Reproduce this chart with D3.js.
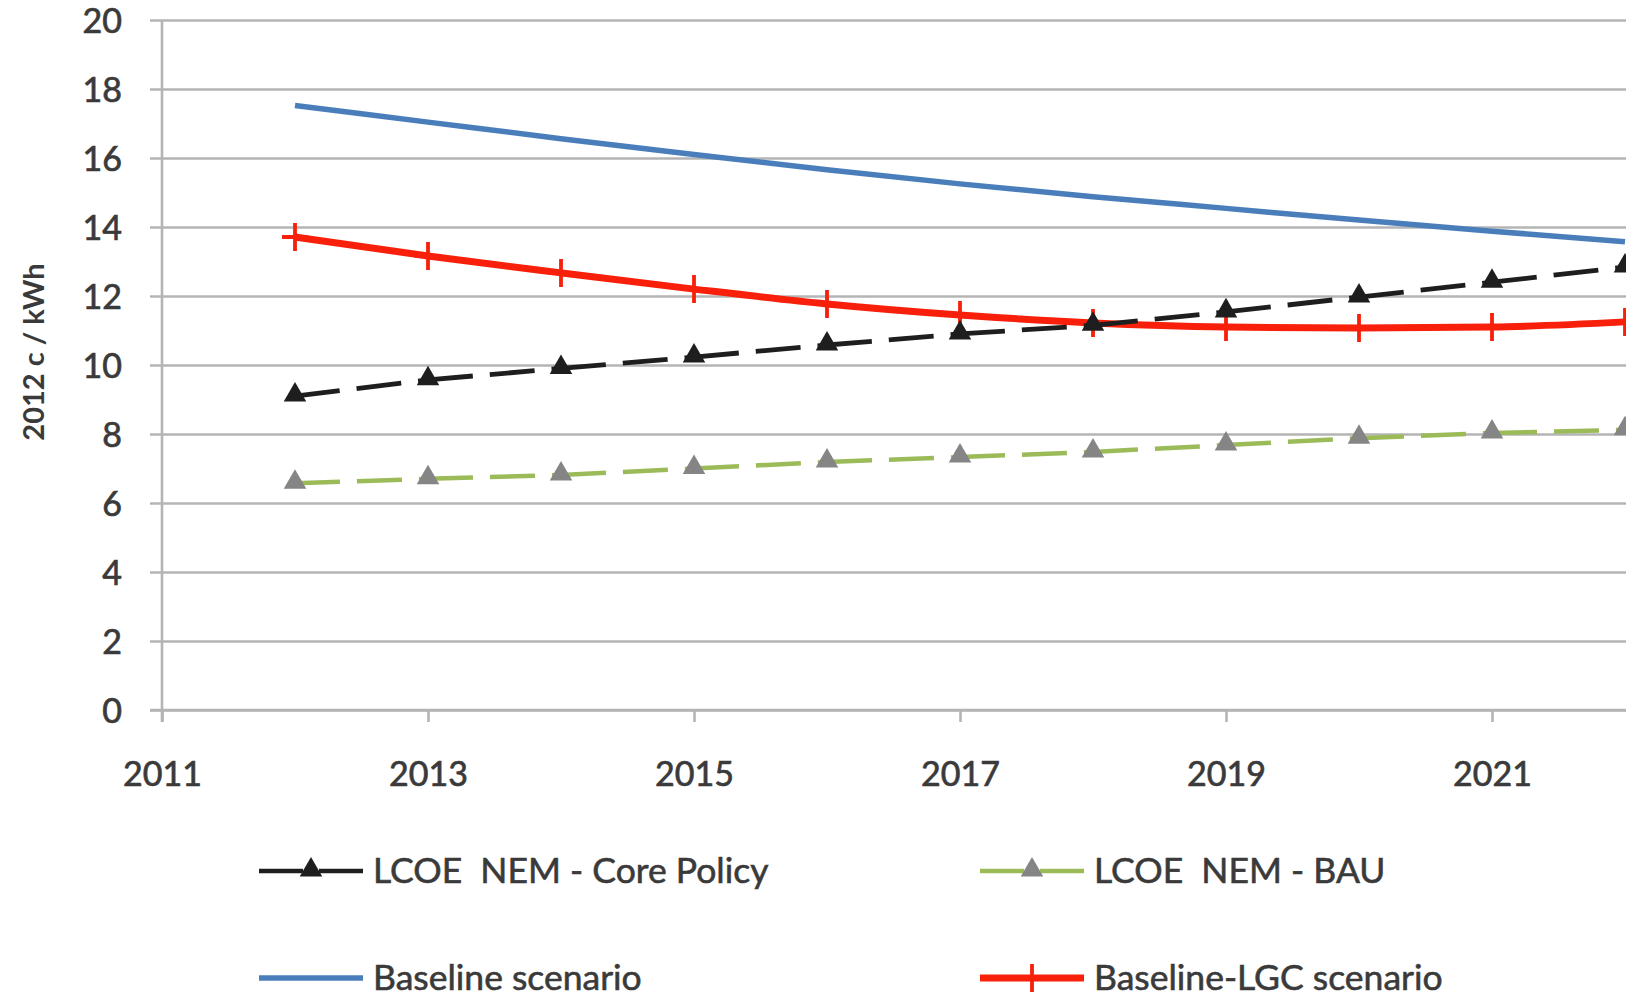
<!DOCTYPE html>
<html>
<head>
<meta charset="utf-8">
<script src="https://cdn.jsdelivr.net/npm/d3@7"></script>
<style>
  html, body { margin: 0; padding: 0; background: #fff; }
  svg { display: block; }
  text { font-family: Lato, "Open Sans", sans-serif; fill: #3a3a3a; }
</style>
</head>
<body>
<svg id="chart" width="1626" height="998"></svg>
<script>
// Years on the horizontal axis
const years = [2012, 2013, 2014, 2015, 2016, 2017, 2018, 2019, 2020, 2021, 2022];

// Levelised cost of electricity, 2012 c / kWh
const corePolicy  = [9.1, 9.57, 9.9, 10.23, 10.58, 10.9, 11.15, 11.54, 11.97, 12.4, 12.84];
const bau         = [6.57, 6.7, 6.81, 7.0, 7.19, 7.33, 7.48, 7.68, 7.88, 8.03, 8.12];
const baseline    = [17.52, 17.04, 16.56, 16.1, 15.66, 15.25, 14.88, 14.54, 14.2, 13.88, 13.57];
const baselineLGC = [13.71, 13.16, 12.67, 12.2, 11.77, 11.45, 11.22, 11.1, 11.07, 11.1, 11.25];

// Axis ticks
const xTicks = [2011, 2013, 2015, 2017, 2019, 2021];
const yTicks = [0, 2, 4, 6, 8, 10, 12, 14, 16, 18, 20];

const yTitle = "2012 c / kWh";
const legendLabels = ["LCOE  NEM - Core Policy", "LCOE  NEM - BAU", "Baseline scenario", "Baseline-LGC scenario"];

const svg = d3.select("#chart");

const x = d3.scaleLinear().domain([2011, 2022]).range([162, 1625]);
const y = d3.scaleLinear().domain([0, 20]).range([710, 20]);

const gridColor = "#b4b4b4";
const textColor = "#3a3a3a";

// Horizontal gridlines and y axis labels
const yAxis = d3.axisLeft(y).tickValues(yTicks).tickSize(-(1626 - 150)).tickPadding(28).tickFormat(d3.format("d"));
const gy = svg.append("g").attr("transform", "translate(150,0)").call(yAxis);
gy.select(".domain").remove();
gy.selectAll(".tick line").attr("stroke", gridColor).attr("stroke-width", 2.6);
gy.selectAll(".tick text").attr("font-size", 34).attr("fill", textColor)
  .attr("stroke", textColor).attr("stroke-width", 0.7).attr("dy", "0.36em");

// Vertical axis line
svg.append("line")
  .attr("x1", x(2011)).attr("x2", x(2011))
  .attr("y1", y(20)).attr("y2", y(0) + 12)
  .attr("stroke", gridColor).attr("stroke-width", 2.6);

// x axis
const xAxis = d3.axisBottom(x).tickValues(xTicks).tickSize(12).tickPadding(40).tickFormat(d3.format("d"));
const gx = svg.append("g").attr("transform", `translate(0,${y(0)})`).call(xAxis);
gx.select(".domain").attr("stroke", gridColor).attr("stroke-width", 2.6)
  .attr("d", `M150,0H1626`);
gx.selectAll(".tick line").attr("stroke", gridColor).attr("stroke-width", 2.6);
gx.selectAll(".tick text").attr("font-size", 34).attr("fill", textColor)
  .attr("stroke", textColor).attr("stroke-width", 0.7);

// y axis title
svg.append("text")
  .attr("transform", "translate(44,352) rotate(-90)")
  .attr("text-anchor", "middle")
  .attr("font-size", 29)
  .attr("font-weight", "bold")
  .attr("fill", "#222")
  .text(yTitle);

const pts = vals => vals.map((v, i) => [x(years[i]), y(v)]);

const triangle = d3.symbol().type(d3.symbolTriangle).size(220);
const cross = "M-13,0H13M0,-14V14";

// Dashed series drawn segment by segment so each span starts with a dash
function dashedSeries(vals, color, markerFill, width) {
  const p = pts(vals);
  const g = svg.append("g");
  for (let i = 0; i < p.length - 1; i++) {
    g.append("line")
      .attr("x1", p[i][0]).attr("y1", p[i][1])
      .attr("x2", p[i + 1][0]).attr("y2", p[i + 1][1])
      .attr("stroke", color).attr("stroke-width", width)
      .attr("stroke-dasharray", "45,17");
  }
  g.selectAll("path.m").data(p).join("path")
    .attr("class", "m")
    .attr("transform", d => `translate(${d[0]},${d[1] - 1})`)
    .attr("d", triangle)
    .attr("fill", markerFill);
}

// Baseline scenario
svg.append("path")
  .attr("d", d3.line().curve(d3.curveMonotoneX)(pts(baseline)))
  .attr("fill", "none").attr("stroke", "#4a7ebb").attr("stroke-width", 5.5);

// Baseline-LGC scenario
const lgc = pts(baselineLGC);
svg.append("path")
  .attr("d", d3.line().curve(d3.curveMonotoneX)(lgc))
  .attr("fill", "none").attr("stroke", "#f8200a").attr("stroke-width", 7);
svg.append("g").selectAll("path").data(lgc).join("path")
  .attr("transform", d => `translate(${d[0]},${d[1]})`)
  .attr("d", cross)
  .attr("stroke", "#f8200a").attr("stroke-width", 3.8).attr("fill", "none");

dashedSeries(bau, "#9bbb59", "#858585", 4.5);
dashedSeries(corePolicy, "#1e1e1e", "#1e1e1e", 4.8);

// Legend
const legendItems = [
  { label: legendLabels[0], x: 259, y: 871, kind: "dash", color: "#1e1e1e", fill: "#1e1e1e" },
  { label: legendLabels[1], x: 980, y: 871, kind: "dash", color: "#9bbb59", fill: "#858585" },
  { label: legendLabels[2], x: 259, y: 978, kind: "solid", color: "#4a7ebb" },
  { label: legendLabels[3], x: 980, y: 978, kind: "cross", color: "#f8200a" }
];
const lg = svg.append("g");
legendItems.forEach(it => {
  const w = 104;
  const line = lg.append("line")
    .attr("x1", it.x).attr("x2", it.x + w)
    .attr("y1", it.y).attr("y2", it.y)
    .attr("stroke", it.color);
  if (it.kind === "dash") {
    line.attr("stroke-width", 4.6).attr("stroke-dasharray", "44,16");
    lg.append("path").attr("transform", `translate(${it.x + w / 2},${it.y - 1})`)
      .attr("d", triangle).attr("fill", it.fill);
  } else if (it.kind === "solid") {
    line.attr("stroke-width", 5.5);
  } else {
    line.attr("stroke-width", 7);
    lg.append("path").attr("transform", `translate(${it.x + w / 2},${it.y})`)
      .attr("d", cross).attr("stroke", it.color).attr("stroke-width", 3.8);
  }
  lg.append("text")
    .attr("x", it.x + w + 10).attr("y", it.y)
    .attr("dy", "0.35em")
    .attr("font-size", 35.5)
    .attr("stroke", textColor).attr("stroke-width", 0.6)
    .attr("xml:space", "preserve")
    .style("white-space", "pre")
    .text(it.label);
});
</script>
</body>
</html>
